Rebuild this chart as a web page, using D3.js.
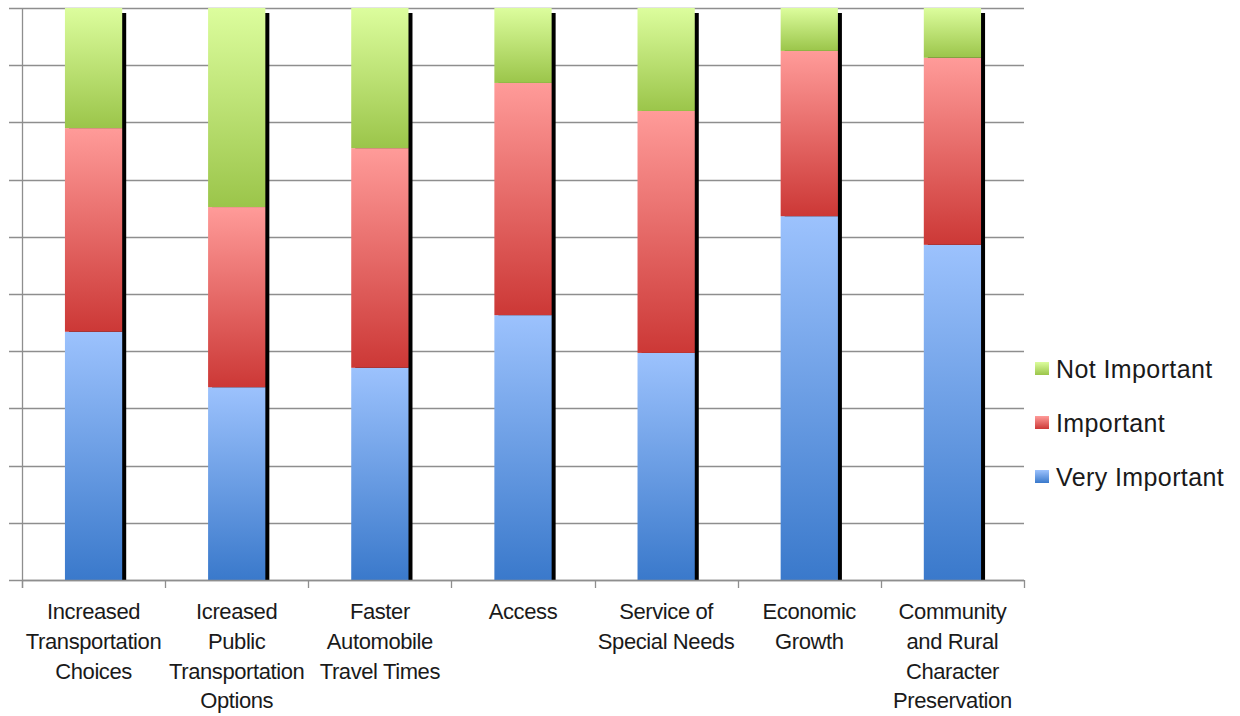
<!DOCTYPE html>
<html>
<head>
<meta charset="utf-8">
<script src="https://cdn.jsdelivr.net/npm/d3@7"></script>
<style>
  html, body { margin: 0; padding: 0; background: #fff; }
  svg { display: block; font-family: "Liberation Sans", Arial, sans-serif; }
</style>
</head>
<body>
<svg id="chart" width="1240" height="716"></svg>
<script>
// Survey priorities, share of responses per rating (percent)
const categories = [
  "Increased\nTransportation\nChoices",
  "Icreased\nPublic\nTransportation\nOptions",
  "Faster\nAutomobile\nTravel Times",
  "Access",
  "Service of\nSpecial Needs",
  "Economic\nGrowth",
  "Community\nand Rural\nCharacter\nPreservation"
];
const veryImportant = [43.4, 33.7, 37.1, 46.3, 39.7, 63.6, 58.6];
const important     = [35.6, 31.5, 38.4, 40.6, 42.3, 28.9, 32.7];
const notImportant  = [21.0, 34.8, 24.5, 13.1, 18.0,  7.5,  8.7];
const seriesNames = ["Very Important", "Important", "Not Important"];
const yTicks = [0, 10, 20, 30, 40, 50, 60, 70, 80, 90, 100];

const svg = d3.select("#chart");
const plotLeft = 22, plotRight = 1024, plotTop = 8, plotBottom = 580;

const palette = {
  "Very Important": ["#9cc2fd", "#3a79cb"],
  "Important":      ["#ff9b99", "#cc3836"],
  "Not Important":  ["#dcfd9d", "#9bc54a"]
};

// vertical gradients, light at the top of each segment
const defs = svg.append("defs");
seriesNames.forEach((name, i) => {
  const g = defs.append("linearGradient")
    .attr("id", "grad" + i)
    .attr("x1", 0).attr("y1", 0).attr("x2", 0).attr("y2", 1);
  g.append("stop").attr("offset", "0%").attr("stop-color", palette[name][0]);
  g.append("stop").attr("offset", "100%").attr("stop-color", palette[name][1]);
});
defs.append("filter").attr("id", "soft")
  .append("feGaussianBlur").attr("stdDeviation", 0.5);

const x = d3.scaleBand().domain(d3.range(categories.length))
  .range([plotLeft, plotRight]).paddingInner(0.6).paddingOuter(0.3);
const xBand = d3.scaleBand().domain(d3.range(categories.length))
  .range([plotLeft, plotRight]);
const y = d3.scaleLinear().domain([0, 100]).range([plotBottom, plotTop]);

const rows = categories.map((c, i) => ({
  i,
  "Very Important": veryImportant[i],
  "Important": important[i],
  "Not Important": notImportant[i]
}));
const stacked = d3.stack().keys(seriesNames)
  .offset(d3.stackOffsetExpand)(rows);

// horizontal gridlines with short ticks on the left
const grid = svg.append("g").attr("stroke", "#8e8e8e").attr("stroke-width", 1.3);
grid.selectAll("line.h").data(yTicks).join("line")
  .attr("x1", plotLeft - 13).attr("x2", plotRight)
  .attr("y1", d => Math.round(y(d)) + 0.5).attr("y2", d => Math.round(y(d)) + 0.5);
grid.append("line")
  .attr("x1", plotLeft + 0.5).attr("x2", plotLeft + 0.5)
  .attr("y1", plotTop).attr("y2", plotBottom + 8);
// category separators below the axis
grid.selectAll("line.t").data(d3.range(categories.length + 1)).join("line")
  .attr("x1", d => Math.round(plotLeft + d * xBand.step()) + 0.5)
  .attr("x2", d => Math.round(plotLeft + d * xBand.step()) + 0.5)
  .attr("y1", plotBottom).attr("y2", plotBottom + 8);

// dark drop shadow to the right of each column
svg.append("g").selectAll("rect").data(rows).join("rect")
  .attr("x", d => x(d.i) + 4)
  .attr("y", y(100) + 5)
  .attr("width", x.bandwidth())
  .attr("height", y(0) - y(100) - 5)
  .attr("fill", "#000")
  .attr("filter", "url(#soft)");

// stacked segments
const layers = svg.append("g").selectAll("g").data(stacked).join("g")
  .attr("fill", (d, i) => `url(#grad${i})`);
layers.selectAll("rect").data(d => d).join("rect")
  .attr("x", d => x(d.data.i))
  .attr("y", d => y(d[1] * 100))
  .attr("width", x.bandwidth())
  .attr("height", d => y(d[0] * 100) - y(d[1] * 100));

// redraw the baseline over the shadows
svg.append("line")
  .attr("x1", plotLeft).attr("x2", plotRight)
  .attr("y1", plotBottom + 0.5).attr("y2", plotBottom + 0.5)
  .attr("stroke", "#8e8e8e").attr("stroke-width", 1.3);

// category labels
const labels = svg.append("g")
  .attr("font-size", 22).attr("fill", "#1a1a1a")
  .attr("text-anchor", "middle").attr("letter-spacing", "-0.4");
labels.selectAll("text").data(categories).join("text")
  .attr("x", (d, i) => xBand(i) + xBand.bandwidth() / 2)
  .attr("y", 619)
  .each(function(d) {
    const t = d3.select(this);
    d.split("\n").forEach((line, k) => {
      t.append("tspan")
        .attr("x", t.attr("x"))
        .attr("dy", k === 0 ? 0 : 29.8)
        .text(line);
    });
  });

// legend, top entry is the top of the stack
const legendOrder = seriesNames.slice().reverse();
const legend = svg.append("g").selectAll("g").data(legendOrder).join("g")
  .attr("transform", (d, i) => `translate(1035, ${369 + i * 54})`);
legend.append("rect")
  .attr("x", 0).attr("y", -7).attr("width", 14).attr("height", 13)
  .attr("fill", d => `url(#grad${seriesNames.indexOf(d)})`);
legend.append("text")
  .attr("x", 21).attr("y", 9)
  .attr("font-size", 25).attr("letter-spacing", "0.4").attr("fill", "#1a1a1a")
  .text(d => d);
</script>
</body>
</html>
